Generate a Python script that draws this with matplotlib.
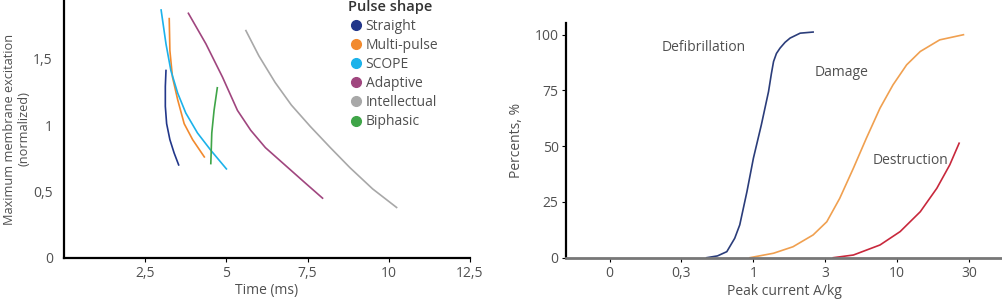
import matplotlib
matplotlib.use("Agg")
import matplotlib.pyplot as plt
from matplotlib.lines import Line2D

plt.rcParams['font.family'] = ['Open Sans', 'DejaVu Sans']

# left panel: strength-duration style curves per pulse shape
straight_t = [3.14, 3.12, 3.12, 3.16, 3.26, 3.39, 3.53]
straight_v = [1.41, 1.29, 1.14, 1.01, 0.89, 0.79, 0.70]

multi_t = [3.24, 3.26, 3.34, 3.50, 3.70, 3.96, 4.32]
multi_v = [1.80, 1.56, 1.36, 1.19, 1.01, 0.89, 0.76]

scope_t = [2.99, 3.14, 3.29, 3.50, 3.75, 4.11, 4.52, 5.00]
scope_v = [1.865, 1.61, 1.41, 1.24, 1.09, 0.94, 0.81, 0.67]

adaptive_t = [3.83, 4.37, 4.88, 5.34, 5.75, 6.20, 6.80, 7.40, 7.96]
adaptive_v = [1.84, 1.61, 1.36, 1.11, 0.96, 0.83, 0.70, 0.57, 0.45]

intel_t = [5.60, 6.00, 6.50, 7.00, 7.58, 8.20, 8.80, 9.50, 10.24]
intel_v = [1.71, 1.52, 1.32, 1.15, 0.99, 0.83, 0.68, 0.52, 0.38]

biphasic_t = [4.52, 4.55, 4.62, 4.72]
biphasic_v = [0.71, 0.94, 1.11, 1.28]

pulse_names = ["Straight", "Multi-pulse", "SCOPE", "Adaptive", "Intellectual", "Biphasic"]
pulse_colors = ["#22378a", "#f28a2e", "#1cb2ea", "#a0467f", "#a8a8a8", "#3fa548"]

time_ticks = [2.5, 5, 7.5, 10, 12.5]
time_labels = ["2,5", "5", "7,5", "10", "12,5"]
exc_ticks = [0, 0.5, 1, 1.5]
exc_labels = ["0", "0,5", "1", "1,5"]

# right panel: dose-response curves, x in category positions
current_labels = ["0", "0,3", "1", "3", "10", "30"]

defib_x = [1.35, 1.50, 1.63, 1.74, 1.81, 1.91, 2.00, 2.11, 2.21, 2.25, 2.28, 2.32, 2.37, 2.44, 2.51, 2.65, 2.83]
defib_y = [0, 0.8, 2.7, 8.7, 14.7, 29.6, 44.6, 59.5, 74.4, 82.5, 87.9, 91.5, 93.9, 96.5, 98.4, 100.6, 101.1]

damage_x = [1.95, 2.28, 2.55, 2.83, 3.02, 3.20, 3.39, 3.57, 3.76, 3.94, 4.13, 4.32, 4.59, 4.92]
damage_y = [0, 2, 4.9, 10.2, 16.1, 26.6, 40.1, 53.5, 67, 77.4, 86.4, 92.4, 97.6, 99.9]

destr_x = [3.11, 3.39, 3.76, 4.04, 4.32, 4.55, 4.73, 4.86]
destr_y = [0, 1.2, 5.7, 11.7, 20.6, 31.1, 41.6, 51.3]

txt = "#505050"
fs = 10

fig = plt.figure(figsize=(10.03, 3.02), dpi=100)

# ---------------- left panel
ax1 = fig.add_axes([0.0638, 0.1457, 0.4048, 0.8543])
series = [(straight_t, straight_v), (multi_t, multi_v), (scope_t, scope_v),
          (adaptive_t, adaptive_v), (intel_t, intel_v), (biphasic_t, biphasic_v)]
for (t, v), c in zip(series, pulse_colors):
    ax1.plot(t, v, color=c, lw=1.2)

ax1.set_xlim(0, 12.5)
ax1.set_ylim(0, 1.94)
ax1.set_xticks(time_ticks)
ax1.set_xticklabels(time_labels)
ax1.set_yticks(exc_ticks)
ax1.set_yticklabels(exc_labels)
for s in ["top", "right"]:
    ax1.spines[s].set_visible(False)
for s in ["left", "bottom"]:
    ax1.spines[s].set_linewidth(1.6)
    ax1.spines[s].set_color("black")
ax1.tick_params(axis="x", length=3, width=0.8, colors="black", labelcolor=txt, labelsize=fs, pad=3)
ax1.tick_params(axis="y", length=0, labelcolor=txt, labelsize=fs, pad=8)
ax1.set_xlabel("Time (ms)", color=txt, fontsize=fs, labelpad=1)
ax1.set_ylabel("Maximum membrane excitation\n(normalized)", color=txt, fontsize=9.2,
               linespacing=1.1)
ax1.yaxis.set_label_coords(-0.083, 0.5)

handles = [Line2D([], [], marker="o", ls="", color=c, markersize=7) for c in pulse_colors]
leg = ax1.legend(handles, pulse_names, title="Pulse shape", loc="upper left",
                 bbox_to_anchor=(0.685, 1.02), frameon=False, fontsize=fs,
                 handletextpad=0.1, labelspacing=0.3, borderaxespad=0,
                 handlelength=1.2, alignment="left")
leg.get_title().set_fontsize(10.5)
leg.get_title().set_fontweight("semibold")
leg.get_title().set_color("#333333")
for t in leg.get_texts():
    t.set_color(txt)

# ---------------- right panel
ax2 = fig.add_axes([0.564, 0.1467, 0.436, 0.776])
ax2.plot(defib_x, defib_y, color="#2b3d7a", lw=1.2)
ax2.plot(damage_x, damage_y, color="#f0a050", lw=1.2)
ax2.plot(destr_x, destr_y, color="#c8283c", lw=1.2)

ax2.text(1.31, 94, "Defibrillation", color=txt, fontsize=fs, ha="center", va="center")
ax2.text(3.23, 83, "Damage", color=txt, fontsize=fs, ha="center", va="center")
ax2.text(4.19, 43.4, "Destruction", color=txt, fontsize=fs, ha="center", va="center")

ax2.set_xlim(-0.61, 5.47)
ax2.set_ylim(0, 105)
ax2.set_xticks(range(len(current_labels)))
ax2.set_xticklabels(current_labels)
ax2.set_yticks([0, 25, 50, 75, 100])
for s in ["top", "right"]:
    ax2.spines[s].set_visible(False)
ax2.spines["left"].set_linewidth(1.6)
ax2.spines["left"].set_color("black")
ax2.spines["bottom"].set_linewidth(2)
ax2.spines["bottom"].set_color("#777777")
ax2.tick_params(axis="x", length=3, width=0.8, colors="black", labelcolor=txt, labelsize=fs, pad=3)
ax2.tick_params(axis="y", length=3, width=0.8, colors="black", labelcolor=txt, labelsize=fs, pad=2)
ax2.set_xlabel("Peak current A/kg", color=txt, fontsize=fs, labelpad=2)
ax2.set_ylabel("Percents, %", color=txt, fontsize=fs, labelpad=8)

fig.savefig("out.png", dpi=100)
